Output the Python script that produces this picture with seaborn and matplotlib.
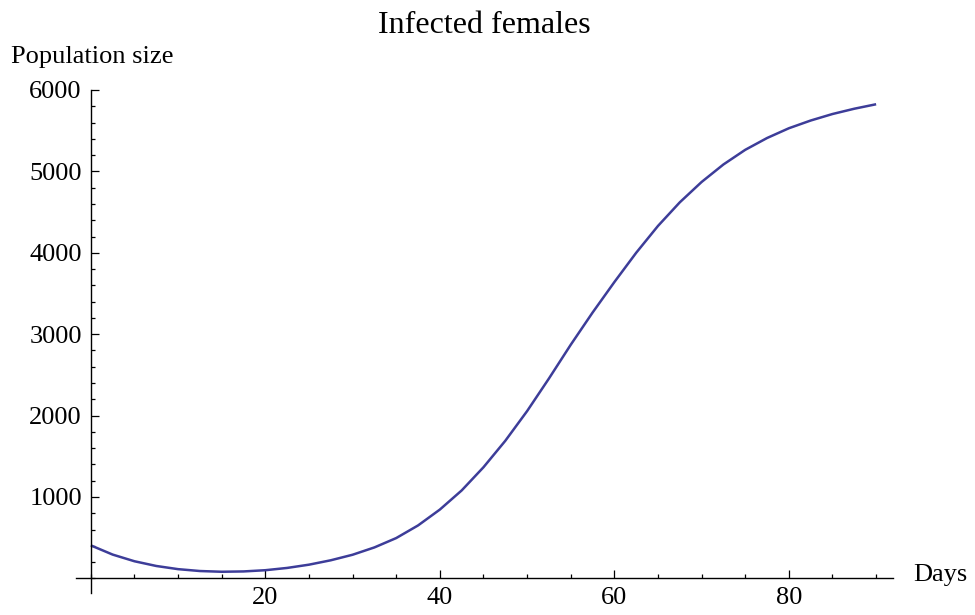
import matplotlib
matplotlib.use("Agg")
import matplotlib.pyplot as plt
from matplotlib.ticker import MultipleLocator, FixedLocator
import seaborn as sns
import pandas as pd

# ---- data ----
days = [0, 2.5, 5, 7.5, 10, 12.5, 15, 17.5, 20, 22.5, 25, 27.5, 30, 32.5, 35,
        37.5, 40, 42.5, 45, 47.5, 50, 52.5, 55, 57.5, 60, 62.5, 65, 67.5, 70,
        72.5, 75, 77.5, 80, 82.5, 85, 87.5, 90]
infected_females = [405, 292, 210, 152, 113, 90, 81, 85, 100, 128, 168, 222,
                    290, 380, 495, 650, 845, 1080, 1365, 1690, 2055, 2455,
                    2870, 3265, 3640, 4000, 4330, 4620, 4870, 5085, 5265,
                    5410, 5530, 5625, 5705, 5770, 5825]
x_major_ticks = [20, 40, 60, 80]
y_major_ticks = [1000, 2000, 3000, 4000, 5000, 6000]
title = "Infected females"
x_label = "Days"
y_label = "Population size"

df = pd.DataFrame({"Days": days, "Infected": infected_females})

sns.set_style("ticks")
plt.rcParams["font.family"] = ["Liberation Serif", "DejaVu Serif"]
plt.rcParams["text.color"] = "black"
plt.rcParams["xtick.color"] = "black"
plt.rcParams["ytick.color"] = "black"
plt.rcParams["xtick.labelcolor"] = "black"
plt.rcParams["ytick.labelcolor"] = "black"

W, H = 975, 615
fig = plt.figure(figsize=(W / 100, H / 100), dpi=100)
ax_left, ax_right = 76, 892.7
ax_top, ax_bottom = 90, 593
ax = fig.add_axes([ax_left / W, (H - ax_bottom) / H,
                   (ax_right - ax_left) / W, (ax_bottom - ax_top) / H])

sns.lineplot(data=df, x="Days", y="Infected", ax=ax, color="#3d3d99",
             linewidth=1.8, solid_joinstyle="round", solid_capstyle="butt")

ax.set_xlim(-1.7, 91.9)
ax.set_ylim(-180, 6000)

for s in ["top", "right"]:
    ax.spines[s].set_visible(False)
ax.spines["left"].set_position(("data", 0))
ax.spines["bottom"].set_position(("data", 0))
for s in ["left", "bottom"]:
    ax.spines[s].set_color("black")
    ax.spines[s].set_linewidth(1.0)

ax.xaxis.set_major_locator(FixedLocator(x_major_ticks))
ax.yaxis.set_major_locator(FixedLocator(y_major_ticks))
ax.xaxis.set_minor_locator(MultipleLocator(5))
ax.yaxis.set_minor_locator(MultipleLocator(200))
ax.tick_params(which="both", direction="in", color="black", width=0.9,
               bottom=True, left=True, top=False, right=False)
ax.tick_params(which="major", length=5.5, labelsize=19, pad=6,
               labelcolor="black")
ax.tick_params(which="minor", length=3)
ax.tick_params(axis="y", which="major", pad=6.5)

ax.set_xlabel("")
ax.set_ylabel("")
ax.grid(False)

fig.text(913 / W, 1 - 575 / H, x_label, fontsize=19, ha="left", va="center",
         color="black")
fig.text(11 / W, 1 - 62.5 / H, y_label, fontsize=19, ha="left",
         va="baseline", color="black")
fig.text(484 / W, 1 - 33 / H, title, fontsize=23, ha="center",
         va="baseline", color="black")

fig.savefig("out.png", dpi=100, facecolor="white")
